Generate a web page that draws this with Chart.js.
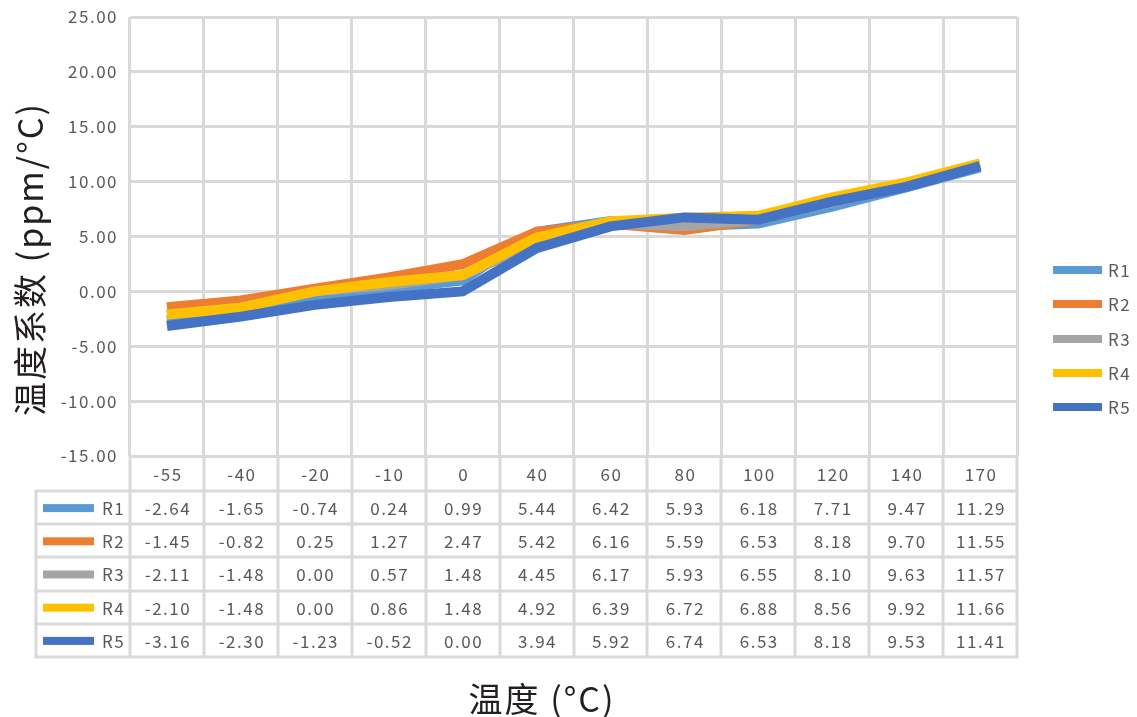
<!DOCTYPE html>
<html>
<head>
<meta charset="utf-8">
<script src="https://cdn.jsdelivr.net/npm/chart.js@4"></script>
<style>
  body { margin: 0; background: #ffffff; }
  #caja { width: 1137px; height: 717px; }
</style>
</head>
<body>
<div id="caja"><canvas id="grafico" width="1137" height="717"></canvas></div>
<script>
const temperaturas = ['-55', '-40', '-20', '-10', '0', '40', '60', '80', '100', '120', '140', '170'];
const r1 = [-2.64, -1.65, -0.74, 0.24, 0.99, 5.44, 6.42, 5.93, 6.18, 7.71, 9.47, 11.29];
const r2 = [-1.45, -0.82, 0.25, 1.27, 2.47, 5.42, 6.16, 5.59, 6.53, 8.18, 9.70, 11.55];
const r3 = [-2.11, -1.48, 0.00, 0.57, 1.48, 4.45, 6.17, 5.93, 6.55, 8.10, 9.63, 11.57];
const r4 = [-2.10, -1.48, 0.00, 0.86, 1.48, 4.92, 6.39, 6.72, 6.88, 8.56, 9.92, 11.66];
const r5 = [-3.16, -2.30, -1.23, -0.52, 0.00, 3.94, 5.92, 6.74, 6.53, 8.18, 9.53, 11.41];
const nombres = ['R1', 'R2', 'R3', 'R4', 'R5'];
const colores = ['#5b9bd5', '#ed7d31', '#a5a5a5', '#ffc000', '#4472c4'];

const series = [r1, r2, r3, r4, r5];
const fuente = '"Noto Sans CJK SC", "Noto Sans", sans-serif';
const gris = '#d9d9d9';
const texto = '#595959';

// espaciado de letras parecido al de Excel
const espaciado = {
  id: 'espaciado',
  beforeDraw(chart) {
    chart.ctx.letterSpacing = '1.5px';
  }
};

// tabla de datos, leyenda y titulos de ejes
const tablaPlugin = {
  id: 'tabla',
  afterDraw(chart) {
    const ctx = chart.ctx;
    const x = chart.scales.x;
    const area = chart.chartArea;
    const ancho = (area.right - area.left) / temperaturas.length;
    const izq = 36;
    const filaCab = 35;
    const fila = 33.2;
    const arriba = area.bottom;
    const abajo = arriba + filaCab + fila * series.length;

    ctx.save();
    ctx.letterSpacing = '1.5px';
    ctx.strokeStyle = gris;
    ctx.lineWidth = 3;
    // lineas verticales
    for (let i = 0; i <= temperaturas.length; i++) {
      const px = Math.round(area.left + i * ancho);
      ctx.beginPath();
      ctx.moveTo(px, arriba);
      ctx.lineTo(px, abajo);
      ctx.stroke();
    }
    ctx.beginPath();
    ctx.moveTo(izq, arriba + filaCab);
    ctx.lineTo(izq, abajo);
    ctx.stroke();
    // lineas horizontales
    for (let j = 0; j <= series.length; j++) {
      const py = Math.round(arriba + filaCab + j * fila);
      ctx.beginPath();
      ctx.moveTo(izq - 1.5, py);
      ctx.lineTo(area.right + 1.5, py);
      ctx.stroke();
    }

    ctx.fillStyle = texto;
    ctx.font = '17px ' + fuente;
    ctx.textAlign = 'center';
    ctx.textBaseline = 'middle';
    temperaturas.forEach((t, i) => {
      ctx.fillText(t, x.getPixelForValue(i) + 1, arriba + filaCab / 2 + 1);
    });
    series.forEach((s, j) => {
      const cy = arriba + filaCab + j * fila + fila / 2 + 1;
      s.forEach((v, i) => {
        ctx.fillText(v.toFixed(2), x.getPixelForValue(i) + 1, cy);
      });
      ctx.fillStyle = colores[j];
      ctx.fillRect(43, cy - 4.5, 51, 8);
      ctx.fillStyle = texto;
      ctx.textAlign = 'left';
      ctx.fillText(nombres[j], 102, cy);
      ctx.textAlign = 'center';
    });

    // leyenda a la derecha
    const leyY = [270, 304, 339, 373, 407];
    nombres.forEach((n, j) => {
      ctx.fillStyle = colores[j];
      ctx.fillRect(1053, leyY[j] - 4, 49, 8);
      ctx.fillStyle = texto;
      ctx.textAlign = 'left';
      ctx.fillText(n, 1108, leyY[j] + 1);
    });

    // titulos de ejes
    ctx.fillStyle = '#231f20';
    ctx.font = '34px ' + fuente;
    ctx.letterSpacing = '2px';
    ctx.textAlign = 'center';
    ctx.fillText('温度 (°C)', 542, 699);
    ctx.translate(30, 259);
    ctx.rotate(-Math.PI / 2);
    ctx.fillText('温度系数 (ppm/°C)', 0, 0);
    ctx.restore();
  }
};

const lienzo = document.getElementById('grafico');
function dibujarGrafico() {
  new Chart(lienzo, {
    type: 'line',
    data: {
      labels: temperaturas,
      datasets: series.map((s, j) => ({
        label: nombres[j],
        data: s,
        borderColor: colores[j],
        backgroundColor: colores[j],
        borderWidth: 10,
        borderJoinStyle: 'miter',
        pointRadius: 0,
        tension: 0,
        order: series.length - j
      }))
    },
    options: {
      responsive: false,
      animation: false,
      layout: {
        padding: { left: 0, right: 120, top: 17, bottom: 261 }
      },
      plugins: {
        legend: { display: false },
        tooltip: { enabled: false }
      },
      scales: {
        x: {
          offset: true,
          grid: { offset: true, color: gris, lineWidth: 3, drawTicks: false },
          border: { display: false },
          ticks: { display: false },
          afterFit: (escala) => { escala.height = 0; }
        },
        y: {
          min: -15,
          max: 25,
          grid: { color: gris, lineWidth: 3, drawTicks: false },
          border: { display: false },
          ticks: {
            stepSize: 5,
            padding: 12,
            color: texto,
            font: { size: 17, family: fuente },
            callback: (v) => v.toFixed(2)
          },
          afterFit: (escala) => {
            escala.width = 130;
            escala.paddingTop = 0;
            escala.paddingBottom = 0;
          }
        }
      }
    },
    plugins: [espaciado, tablaPlugin]
  });
}
dibujarGrafico();
</script>
</body>
</html>
